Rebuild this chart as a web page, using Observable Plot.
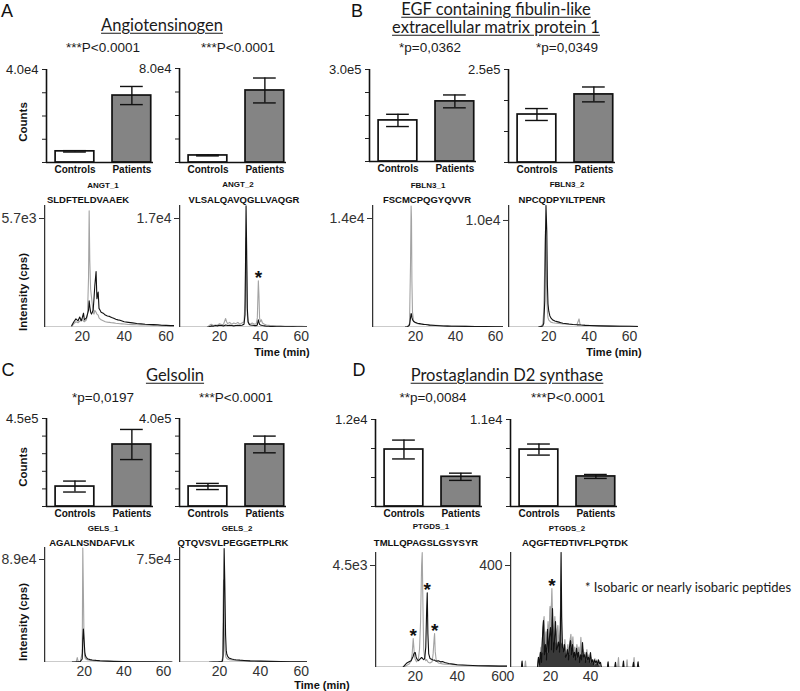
<!DOCTYPE html>
<html><head><meta charset="utf-8">
<script src="https://cdn.jsdelivr.net/npm/d3@7"></script>
<script src="https://cdn.jsdelivr.net/npm/@observablehq/plot@0.6"></script>
<style>
html,body{margin:0;padding:0;background:#fff;}
#root{position:relative;width:800px;height:691px;overflow:hidden;font-family:"Liberation Sans",Arial,sans-serif;color:#111;}
.t{position:absolute;white-space:nowrap;line-height:1;transform:translate(-50%,-50%);}
.v{transform:translate(-50%,-50%) rotate(-90deg);}
.chart{position:absolute;}
.chart svg{overflow:visible;}
</style></head><body><div id="root"></div>
<script>
// ---------- data ----------
const categories = ["Controls", "Patients"];

// bar charts: means and SEM (counts)
const angt1Means = [4800, 28800],   angt1Errors = [300, 3900];
const angt2Means = [6000, 61300],   angt2Errors = [400, 10600];
const fbln1Means = [134000, 196000], fbln1Errors = [20000, 21000];
const fbln2Means = [129000, 183000], fbln2Errors = [16000, 20000];
const gels1Means = [102000, 317000], gels1Errors = [28000, 77000];
const gels2Means = [91000, 282000],  gels2Errors = [14000, 38000];
const ptgds1Means = [7860, 4100],   ptgds1Errors = [1300, 500];
const ptgds2Means = [7200, 3800],   ptgds2Errors = [700, 250];

// chromatograms: [time (min), intensity (cps)]
const angt1Black = [[15,100],[16,300],[17,450],[18,350],[18.8,550],[19.5,350],[20,500],[20.6,750],[21,400],[22,500],[22.5,700],[23,900],[23.3,1400],[23.6,1100],[24,800],[24.4,700],[24.8,800],[25.2,900],[25.6,1500],[26,2200],[26.6,2930],[27,1500],[27.6,1850],[28,1000],[28.5,900],[29,800],[30,750],[31,650],[32,600],[33,580],[34,520],[35,480],[36,430],[37,400],[38,380],[39,340],[40,300],[42,270],[44,240],[46,210],[48,190],[50,170],[52,160],[54,150],[56,140],[58,120],[60,110],[62,100],[64,100]];
const angt1Gray = [[15,50],[16,200],[17,300],[18,250],[19,350],[20,400],[21,300],[22,400],[22.5,700],[23,2600],[23.3,6100],[23.6,3500],[24,2000],[24.4,1600],[24.8,1200],[25.2,800],[25.6,700],[26,900],[26.6,800],[27,700],[27.6,650],[28,500],[28.5,450],[29,400],[30,350],[31,300],[32,280],[33,270],[34,250],[35,240],[36,220],[37,210],[38,200],[39,190],[40,180],[42,160],[44,150],[46,140],[48,130],[50,130],[52,120],[54,110],[56,110],[58,100],[60,100],[62,90],[64,90]];
const angt2Black = [[14,0],[15,100],[16,250],[17,200],[18,300],[19,250],[20,350],[21,300],[22,250],[23,400],[23.5,350],[24,300],[25,350],[26,300],[27,250],[28,300],[29,350],[30,300],[31,350],[32,500],[32.5,2000],[33,19000],[33.3,12000],[33.6,3000],[34,900],[34.5,500],[35,400],[36,350],[37,300],[38,300],[38.5,400],[39,1200],[39.3,800],[39.6,500],[40,400],[40.5,350],[41,300],[42,250],[43,200],[44,200],[45,150],[46,150],[48,120],[50,100],[52,100],[54,90],[56,90],[58,80],[60,80],[62,70],[63,70]];
const angt2Gray = [[14,50],[15,300],[16,500],[17,300],[18,400],[19,350],[20,600],[21,450],[22,500],[23,1400],[23.5,900],[24,600],[25,800],[26,500],[27,700],[28,600],[29,800],[30,500],[31,700],[32,900],[32.5,4000],[33,14000],[33.3,9000],[33.6,2000],[34,800],[34.5,600],[35,500],[36,700],[37,500],[38,600],[38.5,1500],[39,7300],[39.3,5000],[39.6,1500],[40,900],[40.5,1200],[41,700],[42,500],[43,400],[44,350],[45,300],[46,300],[48,250],[50,250],[52,200],[54,200],[56,180],[58,180],[60,170],[62,160],[63,160]];
const fbln1Black = [[15,50],[16,100],[17,300],[17.5,1200],[17.8,1800],[18,1700],[18.2,1300],[18.5,1000],[19,800],[19.5,700],[20,650],[21,550],[22,500],[23,450],[24,400],[25,380],[26,350],[27,300],[28,280],[30,250],[32,220],[34,200],[36,180],[38,170],[40,160],[45,140],[50,120],[55,110],[60,100],[64,100]];
const fbln1Gray = [[15,50],[16,100],[17,500],[17.5,8000],[17.8,15600],[18,14000],[18.2,6000],[18.5,2000],[19,900],[19.5,700],[20,600],[21,500],[22,450],[23,420],[24,400],[25,380],[26,360],[27,340],[28,320],[30,280],[32,250],[34,230],[36,210],[38,200],[40,180],[45,150],[50,130],[55,120],[60,110],[64,100]];
const fbln2Black = [[15,50],[16,80],[17,150],[17.5,400],[18,2500],[18.3,8000],[18.6,11400],[19,9000],[19.3,4000],[19.6,2200],[20,1500],[20.5,1100],[21,900],[22,700],[23,600],[24,550],[25,500],[26,450],[27,400],[28,380],[30,320],[32,280],[34,250],[35,250],[35.5,240],[36,230],[38,200],[40,180],[45,150],[50,130],[55,120],[60,110],[64,100]];
const fbln2Gray = [[15,50],[16,100],[17,300],[17.5,1500],[18,6000],[18.3,9000],[18.6,7000],[19,3000],[19.3,1500],[19.6,900],[20,700],[20.5,600],[21,500],[22,450],[23,420],[24,400],[25,380],[26,350],[27,330],[28,320],[30,300],[32,280],[34,300],[35,800],[35.5,300],[36,260],[38,230],[40,200],[45,170],[50,150],[55,130],[60,120],[64,110]];
const gels1Black = [[14,300],[15,400],[16,500],[16.5,600],[17,600],[18,700],[19,3000],[19.3,20000],[19.6,29000],[20,18000],[20.3,9000],[20.6,6000],[21,4500],[21.5,3500],[22,3000],[23,2500],[24,2200],[25,2000],[26,1800],[28,1500],[30,1300],[32,1200],[35,1000],[40,800],[45,700],[50,600],[55,500],[60,450],[64,400]];
const gels1Gray = [[14,300],[15,400],[16,800],[16.5,4300],[17,800],[18,700],[19,8000],[19.3,99000],[19.6,60000],[20,10000],[20.3,5000],[20.6,3500],[21,2800],[21.5,2500],[22,2200],[23,2000],[24,1800],[25,1600],[26,1500],[28,1300],[30,1200],[32,1100],[35,900],[40,700],[45,600],[50,500],[55,450],[60,400],[64,350]];
const gels2Black = [[15,200],[17,300],[19,400],[20,500],[21,600],[21.5,1000],[21.8,5000],[22,30000],[22.3,83000],[22.6,60000],[23,20000],[23.3,9000],[23.6,6000],[24,4500],[24.5,3500],[25,3000],[26,2500],[27,2200],[28,2000],[30,1700],[32,1500],[35,1200],[40,1000],[45,800],[50,700],[55,600],[60,500],[63,500]];
const gels2Gray = [[15,200],[17,300],[19,400],[20,500],[21,700],[21.5,3000],[21.8,40000],[22,60000],[22.3,30000],[22.6,10000],[23,5000],[23.3,3500],[23.6,3000],[24,2500],[24.5,2200],[25,2000],[26,1800],[27,1600],[28,1500],[30,1300],[32,1200],[35,1000],[40,800],[45,700],[50,600],[55,500],[60,450],[63,400]];
const ptgds1Black = [[14,0],[15,100],[16,200],[17,250],[18,300],[18.5,400],[19,500],[19.3,600],[19.6,650],[20,660],[20.3,500],[20.6,400],[21,350],[21.5,300],[22,350],[22.5,400],[23,440],[23.3,420],[23.6,380],[24,350],[24.5,400],[25,900],[25.4,2500],[25.7,3300],[26,1500],[26.4,600],[27,400],[28,350],[28.5,330],[29,320],[29.2,330],[29.5,300],[30,280],[31,300],[32,250],[33,260],[34,220],[35,200],[36,180],[38,150],[40,120],[45,100],[50,80],[55,70],[60,60],[64,60]];
const ptgds1Gray = [[14,0],[15,60],[16,100],[17,150],[18,300],[18.5,600],[19,1280],[19.3,900],[19.6,500],[20,350],[20.3,300],[20.6,250],[21,300],[21.5,400],[22,800],[22.5,2000],[23,4500],[23.3,5070],[23.6,3000],[24,800],[24.5,400],[25,300],[25.4,350],[25.7,300],[26,250],[26.4,220],[27,200],[28,250],[28.5,600],[29,1300],[29.2,1500],[29.5,700],[30,300],[31,200],[32,180],[33,160],[34,150],[35,140],[36,130],[38,120],[40,110],[45,90],[50,80],[55,70],[60,60],[64,60]];
const ptgds2Black = [[0,0],[5.5,0],[5.8,25],[6.1,0],[13.5,0],[14,40],[14.5,10],[15,60],[15.5,20],[16,120],[16.5,184],[17,50],[17.5,90],[18,30],[18.5,150],[19,60],[19.5,120],[20,157],[20.5,70],[21,231],[21.5,60],[22,100],[22.5,180],[23,70],[23.5,80],[24,100],[24.5,60],[25,150],[25.3,451],[25.6,200],[26,80],[26.5,60],[27,90],[27.5,40],[28,47],[28.5,70],[29,30],[29.5,80],[30,106],[30.5,50],[31,90],[31.5,40],[32,60],[32.5,30],[33,75],[33.5,40],[34,60],[34.5,20],[35,50],[35.5,30],[36,98],[36.5,40],[37,50],[37.5,20],[38,59],[38.5,30],[39,40],[39.5,20],[40,59],[40.5,20],[41,30],[41.5,10],[42,30],[42.5,20],[43,25],[43.5,10],[44,30],[44.5,15],[45,20],[45.5,0],[48.5,0],[48.8,22],[49.1,0],[52.2,0],[52.5,20],[52.8,0],[56.2,0],[56.5,25],[56.8,0],[61.2,0],[61.5,20],[61.8,0],[63.5,0],[63.8,22],[64.1,0],[65,0]];
const ptgds2Gray = [[0,0],[7.2,0],[7.5,25],[7.8,0],[13.8,0],[14.2,30],[14.8,50],[15.3,80],[15.8,60],[16.3,140],[16.8,200],[17.3,90],[17.8,140],[18.3,60],[18.8,180],[19.3,120],[19.8,240],[20.3,200],[20.7,310],[21.2,150],[21.7,130],[22.2,200],[22.7,100],[23.2,140],[23.7,165],[24.2,90],[24.7,120],[25.2,300],[25.5,100],[26.2,90],[26.7,60],[27.2,110],[27.7,50],[28.2,60],[28.7,90],[29.2,50],[29.7,100],[30.2,130],[30.7,70],[31.2,120],[31.7,60],[32.2,80],[32.7,40],[33.2,90],[33.7,60],[34.2,80],[34.7,40],[35.2,118],[35.7,50],[36.2,70],[36.7,40],[37.2,60],[37.7,30],[38.2,70],[38.7,30],[39.2,50],[39.7,20],[40.2,40],[40.7,20],[41.2,30],[41.7,10],[42.2,35],[42.7,15],[43.2,30],[43.7,10],[44.2,25],[45,0],[53.7,0],[54,39],[54.3,0],[58,0],[58.3,30],[58.6,0],[61.5,0],[61.8,39],[62.1,0],[65,0]];

// isobaric peak markers [time, intensity]
const angt2Stars = [[39.1, 7300]];
const ptgds1Stars = [[19, 1280], [25.7, 3300], [29.2, 1500]];
const ptgds2Stars = [[20.7, 310]];

// texts
const panelLetters = [["A", 7, 11], ["B", 357, 11], ["C", 8, 370], ["D", 359, 370]];
const titles = [["Angiotensinogen", 162, 25], ["EGF containing fibulin-like", 496, 9], ["extracellular matrix protein 1", 496, 27], ["Gelsolin", 175, 375], ["Prostaglandin D2 synthase", 507, 375]];
const pValues = [["***P<0.0001", 103, 48], ["***P<0.0001", 238, 48], ["*p=0,0362", 430, 48], ["*p=0,0349", 567, 48], ["*p=0,0197", 103, 398], ["***P<0.0001", 236, 398], ["**p=0,0084", 433, 398], ["***P<0.0001", 568, 398]];
const peptideIds = [["ANGT_1", 103, 186], ["ANGT_2", 238, 185], ["FBLN3_1", 428, 186], ["FBLN3_2", 567, 185], ["GELS_1", 103, 529], ["GELS_2", 237, 529], ["PTGDS_1", 431, 527], ["PTGDS_2", 567, 529]];
const peptideSeqs = [["SLDFTELDVAAEK", 88, 200], ["VLSALQAVQGLLVAQGR", 244, 200], ["FSCMCPQGYQVVR", 427, 200], ["NPCQDPYILTPENR", 562, 200], ["AGALNSNDAFVLK", 92, 543], ["QTQVSVLPEGGETPLRK", 233, 543], ["TMLLQPAGSLGSYSYR", 426, 543], ["AQGFTEDTIVFLPQTDK", 575, 543]];
const countsLabels = [[24, 122], [24, 467]];
const intensityLabels = [[24, 292], [24, 622]];
const timeLabels = [[282, 352], [614, 352], [322, 685]];
const noteText = "* Isobaric or nearly isobaric peptides";

// ---------- layout ----------
const root = document.getElementById("root");
function addText(str, x, y, css, cls = "t") {
  const d = document.createElement("div");
  d.className = cls;
  d.textContent = str;
  d.style.left = x + "px"; d.style.top = y + "px";
  Object.assign(d.style, css);
  root.appendChild(d);
}
function place(svg, left, top) {
  const d = document.createElement("div");
  d.className = "chart";
  d.style.left = left + "px"; d.style.top = top + "px";
  d.appendChild(svg);
  root.appendChild(d);
}
const expFmt = v => v >= 1000 ? v.toExponential(1).replace("e+", "e") : String(v);
const tickFont = "'Liberation Sans', Arial, sans-serif";

function barChart(c) {
  const ML = 46, MR = 6, MT = 8, MB = 24, innerW = 107;
  const innerH = c.baseY - c.topY;
  const rows = categories.map((k, i) => ({i, k, v: c.means[i], e: c.errors[i]}));
  const ticks = d3.range(c.intervals + 1).map(j => c.max * j / c.intervals);
  const xd = [-0.5, 1.38];
  const ink = "#111";
  const svg = Plot.plot({
    width: ML + innerW + MR, height: MT + innerH + MB,
    marginLeft: ML, marginRight: MR, marginTop: MT, marginBottom: MB,
    style: {fontFamily: tickFont, fontSize: "13px", background: "transparent", color: "#222", overflow: "visible"},
    x: {domain: xd, label: null},
    y: {domain: [0, c.max], label: null},
    marks: [
      Plot.rectY(rows, {x1: d => d.i - 0.34, x2: d => d.i + 0.34, y1: 0, y2: "v", fill: d => d.i ? "#848484" : "#ffffff", stroke: ink, strokeWidth: 1.7}),
      Plot.ruleX(rows, {x: "i", y1: d => d.v - d.e, y2: d => d.v + d.e, stroke: ink, strokeWidth: 1.4}),
      Plot.ruleY(rows, {y: d => d.v + d.e, x1: d => d.i - 0.2, x2: d => d.i + 0.2, stroke: ink, strokeWidth: 1.4}),
      Plot.ruleY(rows, {y: d => d.v - d.e, x1: d => d.i - 0.2, x2: d => d.i + 0.2, stroke: ink, strokeWidth: 1.4}),
      Plot.ruleX([xd[0]], {stroke: ink, strokeWidth: 1.6}),
      Plot.ruleY([0], {stroke: ink, strokeWidth: 1.6}),
      Plot.axisY({ticks, label: null, tickSize: 4, tickPadding: 4, tickFormat: d => d === c.max ? expFmt(d) : "", fontSize: 13}),
      Plot.axisX({ticks: [0, 1], label: null, tickFormat: i => categories[i], tickSize: 0, tickPadding: 3, fontSize: 10, fontWeight: "bold", fill: "#111"})
    ]
  });
  place(svg, c.axisX - ML, c.topY - MT);
}

function chromatogram(c) {
  const ML = 46, MR = 6, MT = 3, MB = 24;
  const innerW = c.axisEnd - c.axisX;
  const innerH = c.baseY - c.axisTopY;
  const marks = [];
  if (c.dense) {
    marks.push(Plot.areaY(c.gray, {x: d => d[0], y: d => d[1], fill: "#9a9a9a", fillOpacity: 0.8}));
    marks.push(Plot.areaY(c.black, {x: d => d[0], y: d => d[1], fill: "#111", fillOpacity: 0.75}));
  }
  marks.push(
    Plot.line(c.gray, {x: d => d[0], y: d => d[1], stroke: "#a3a3a3", strokeWidth: 1.1}),
    Plot.line(c.black, {x: d => d[0], y: d => d[1], stroke: "#111", strokeWidth: 1.1}),
    Plot.ruleX([c.xDomain[0]], {stroke: "#333", strokeWidth: 1.5}),
    Plot.ruleY([0], {stroke: "#333", strokeWidth: 1.5}),
    Plot.axisY({ticks: [c.topTick], label: null, tickSize: 5, tickPadding: 3, tickFormat: expFmt, fontSize: 14}),
    Plot.axisX({ticks: c.xTicks, label: null, tickSize: 0, tickPadding: 4, fontSize: 14})
  );
  if (c.stars) marks.push(Plot.text(c.stars, {x: d => d[0], y: d => d[1], text: () => "*", dy: -3, fontSize: 19, fontWeight: "bold", fill: "#111"}));
  const svg = Plot.plot({
    width: ML + innerW + MR, height: MT + innerH + MB,
    marginLeft: ML, marginRight: MR, marginTop: MT, marginBottom: MB,
    style: {fontFamily: tickFont, fontSize: "14px", background: "transparent", color: "#333", overflow: "visible"},
    x: {domain: c.xDomain, label: null},
    y: {domain: [0, c.ymax], label: null},
    clip: true,
    marks
  });
  place(svg, c.axisX - ML, c.axisTopY - MT);
}

// bar charts
barChart({means: angt1Means, errors: angt1Errors, max: 40000, intervals: 4, axisX: 46, topY: 69, baseY: 162});
barChart({means: angt2Means, errors: angt2Errors, max: 80000, intervals: 4, axisX: 179, topY: 68, baseY: 162});
barChart({means: fbln1Means, errors: fbln1Errors, max: 300000, intervals: 4, axisX: 369, topY: 69, baseY: 161});
barChart({means: fbln2Means, errors: fbln2Errors, max: 250000, intervals: 3, axisX: 508, topY: 69, baseY: 162});
barChart({means: gels1Means, errors: gels1Errors, max: 450000, intervals: 5, axisX: 46, topY: 418, baseY: 506});
barChart({means: gels2Means, errors: gels2Errors, max: 400000, intervals: 5, axisX: 179, topY: 418, baseY: 506});
barChart({means: ptgds1Means, errors: ptgds1Errors, max: 12000, intervals: 3, axisX: 375, topY: 419, baseY: 506});
barChart({means: ptgds2Means, errors: ptgds2Errors, max: 11000, intervals: 3, axisX: 510, topY: 419, baseY: 506});

// chromatograms
chromatogram({black: angt1Black, gray: angt1Gray, xDomain: [2, 64], ymax: 6380, topTick: 5700, xTicks: [20, 40, 60], axisX: 44, axisEnd: 174, axisTopY: 205, baseY: 327});
chromatogram({black: angt2Black, gray: angt2Gray, xDomain: [0.5, 63], ymax: 19030, topTick: 17000, xTicks: [20, 40, 60], axisX: 179, axisEnd: 307, axisTopY: 205, baseY: 327, stars: angt2Stars});
chromatogram({black: fbln1Black, gray: fbln1Gray, xDomain: [-1.5, 64], ymax: 15670, topTick: 14000, xTicks: [20, 40, 60], axisX: 372, axisEnd: 503, axisTopY: 205, baseY: 327});
chromatogram({black: fbln2Black, gray: fbln2Gray, xDomain: [0, 64.5], ymax: 11400, topTick: 10000, xTicks: [20, 40, 60], axisX: 508, axisEnd: 638, axisTopY: 205, baseY: 327});
chromatogram({black: gels1Black, gray: gels1Gray, xDomain: [0, 65], ymax: 99370, topTick: 89000, xTicks: [20, 40, 60], axisX: 44, axisEnd: 173, axisTopY: 547, baseY: 662});
chromatogram({black: gels2Black, gray: gels2Gray, xDomain: [0.5, 63], ymax: 83740, topTick: 75000, xTicks: [20, 40, 60], axisX: 179, axisEnd: 307, axisTopY: 547, baseY: 662});
chromatogram({black: ptgds1Black, gray: ptgds1Gray, xDomain: [1, 64], ymax: 5074, topTick: 4500, xTicks: [20, 40, 60], axisX: 375, axisEnd: 507, axisTopY: 552, baseY: 667, stars: ptgds1Stars});
chromatogram({black: ptgds2Black, gray: ptgds2Gray, xDomain: [0, 65], ymax: 451, topTick: 400, xTicks: [0, 20, 40], axisX: 510, axisEnd: 640, axisTopY: 552, baseY: 667, stars: ptgds2Stars, dense: true});

// texts
panelLetters.forEach(([s, x, y]) => addText(s, x, y, {fontSize: "18px"}));
titles.forEach(([s, x, y]) => addText(s, x, y, {fontSize: "16.5px", fontFamily: "Lato, 'Liberation Sans', sans-serif", textDecoration: "underline", textUnderlineOffset: "2px", color: "#1a1a1a"}));
pValues.forEach(([s, x, y]) => addText(s, x, y, {fontSize: "13.5px", color: "#1a1a1a"}));
peptideIds.forEach(([s, x, y]) => addText(s, x, y, {fontSize: "8px", fontWeight: "bold"}));
peptideSeqs.forEach(([s, x, y]) => addText(s, x, y, {fontSize: "9.5px", fontWeight: "bold", fontFamily: "'Liberation Sans Narrow', 'Liberation Sans', Arial, sans-serif"}));
countsLabels.forEach(([x, y]) => addText("Counts", x, y, {fontSize: "11.5px", fontWeight: "bold"}, "t v"));
intensityLabels.forEach(([x, y]) => addText("Intensity (cps)", x, y, {fontSize: "11.5px", fontWeight: "bold"}, "t v"));
timeLabels.forEach(([x, y]) => addText("Time (min)", x, y, {fontSize: "11px", fontWeight: "bold"}));
addText(noteText, 585, 587, {fontSize: "13px", fontFamily: "Lato, 'Liberation Sans', sans-serif", transform: "translate(0,-50%)", color: "#1a1a1a"});
</script></body></html>
